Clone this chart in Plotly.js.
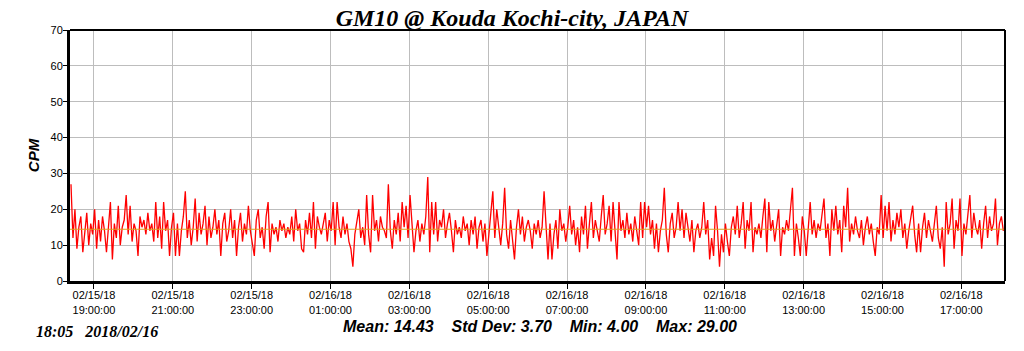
<!DOCTYPE html>
<html>
<head>
<meta charset="utf-8">
<script src="https://cdn.plot.ly/plotly-3.0.1.min.js"></script>
<style>html,body{margin:0;padding:0;background:#fff;}#chart{width:1024px;height:351px;}</style>
</head>
<body>
<div id="chart"></div>
<script>
// CPM readings, one every 3 minutes starting 2018-02-15 18:25
const startTime = "2018-02-15 18:25:00";
const intervalMinutes = 3;
const cpm = [
  27,12,20,9,15,18,8,14,19,10, 16,13,20,9,17,11,18,14,8,15,
  22,6,16,12,21,10,15,17,24,13, 21,11,16,14,7,18,15,17,13,19,
  14,16,11,22,12,18,9,22,14,17, 7,15,19,7,16,7,14,18,25,12,
  17,10,15,23,11,19,13,16,21,10, 18,12,15,20,13,17,7,16,19,11,
  14,20,12,17,7,15,19,11,16,13, 21,14,10,7,17,20,12,15,9,18,
  22,8,16,13,15,11,17,14,16,12, 15,13,18,11,20,14,16,9,8,17,
  13,19,12,22,9,18,15,13,16,19, 11,17,14,22,10,22,15,12,18,13,
  16,11,9,4,13,17,20,12,15,10, 24,13,8,24,14,17,11,18,15,14,
  12,27,14,9,17,13,19,11,22,15, 21,12,24,16,8,14,17,11,16,13,
  18,29,8,22,13,22,11,17,15,20, 12,16,19,14,8,17,13,15,12,18,
  14,16,10,17,13,18,9,15,17,11, 16,7,14,19,25,12,20,14,10,16,
  26,13,9,17,11,6,15,20,13,18, 11,15,17,14,9,16,13,17,12,15,
  25,14,6,16,6,13,17,9,20,14, 16,11,15,21,13,17,10,15,8,18,
  13,21,9,16,22,12,17,14,11,18, 24,13,16,21,11,22,15,6,22,14,
  17,12,19,13,16,11,18,14,10,22, 12,22,15,21,13,17,9,16,8,14,
  17,26,13,8,16,19,12,15,22,14, 20,12,19,15,11,17,8,14,16,12,
  15,22,13,17,6,12,7,21,14,4, 13,8,16,11,7,15,18,13,21,12,
  16,22,9,17,14,22,8,15,13,16, 12,18,23,8,22,14,17,11,16,20,
  7,15,13,17,14,21,26,7,16,12, 7,18,14,7,15,22,13,17,12,16,
  14,18,23,12,16,7,20,14,21,13, 17,8,21,15,26,11,16,13,18,14,
  12,17,10,15,18,13,16,11,7,15, 13,24,12,21,14,22,11,17,13,19,
  15,20,12,16,9,14,17,21,13,8, 16,8,15,19,12,17,14,11,16,21,
  12,9,15,4,22,13,16,23,9,17, 14,23,7,16,13,18,24,12,19,15,
  13,17,9,16,21,12,18,14,16,23, 10,16,18,14
];
const meanValue = 14.43;
const tickTimes = [
  "2018-02-15 19:00:00","2018-02-15 21:00:00","2018-02-15 23:00:00",
  "2018-02-16 01:00:00","2018-02-16 03:00:00","2018-02-16 05:00:00",
  "2018-02-16 07:00:00","2018-02-16 09:00:00","2018-02-16 11:00:00",
  "2018-02-16 13:00:00","2018-02-16 15:00:00","2018-02-16 17:00:00"
];
const tickLabels = [
  "02/15/18<br>19:00:00","02/15/18<br>21:00:00","02/15/18<br>23:00:00",
  "02/16/18<br>01:00:00","02/16/18<br>03:00:00","02/16/18<br>05:00:00",
  "02/16/18<br>07:00:00","02/16/18<br>09:00:00","02/16/18<br>11:00:00",
  "02/16/18<br>13:00:00","02/16/18<br>15:00:00","02/16/18<br>17:00:00"
];
const xRange = ["2018-02-15 18:23:30", "2018-02-16 18:06:30"];
const titleText = "GM10 @ Kouda Kochi-city, JAPAN";
const statsText = "Mean: 14.43&nbsp;&nbsp;&nbsp;&nbsp;Std Dev: 3.70&nbsp;&nbsp;&nbsp;&nbsp;Min: 4.00&nbsp;&nbsp;&nbsp;&nbsp;Max: 29.00";
const stampText = "18:05&nbsp;&nbsp;&nbsp;2018/02/16";

function toStr(ms){ return new Date(ms).toISOString().slice(0,19).replace('T',' '); }
const t0 = Date.parse(startTime.replace(' ','T') + 'Z');
const times = cpm.map((v,i) => toStr(t0 + i*intervalMinutes*60000));

const traces = [
  {x: times, y: cpm, type: 'scatter', mode: 'lines',
   line: {color: '#ff0000', width: 1.3}, hoverinfo: 'skip'},
  {x: xRange, y: [meanValue, meanValue], type: 'scatter', mode: 'lines',
   line: {color: '#e0a020', width: 1}, hoverinfo: 'skip'}
];

const layout = {
  width: 1024, height: 351,
  margin: {l: 70, r: 19, t: 30, b: 70},
  paper_bgcolor: '#ffffff', plot_bgcolor: '#ffffff',
  showlegend: false,
  font: {family: 'Liberation Sans, Arial, sans-serif', size: 11, color: '#000'},
  title: {text: titleText, x: 0.5, xanchor: 'center', y: 0.951, yanchor: 'middle',
          font: {family: 'Liberation Serif, Times New Roman, serif', size: 24, color: '#000', weight: 'bold', style: 'italic'}},
  xaxis: {type: 'date', range: xRange, tickmode: 'array', tickvals: tickTimes, ticktext: tickLabels,
          showgrid: true, gridcolor: '#bdbdbd', gridwidth: 1, zeroline: false,
          showline: true, linecolor: '#000', linewidth: 3,
          ticks: 'outside', ticklen: 5, tickcolor: '#000', tickwidth: 1,
          ticklabelstandoff: -3,
          tickfont: {size: 11, color: '#000'}, fixedrange: true},
  yaxis: {range: [0, 70], tickmode: 'array', tickvals: [0,10,20,30,40,50,60,70],
          showgrid: true, gridcolor: '#bdbdbd', gridwidth: 1, zeroline: false,
          showline: true, linecolor: '#000', linewidth: 3,
          ticks: 'outside', ticklen: 4, tickcolor: '#000', tickwidth: 1,
          ticklabelstandoff: -2,
          tickfont: {size: 11, color: '#000'},
          title: {text: 'CPM', standoff: 8, font: {size: 15, weight: 'bold', style: 'italic', color: '#000'}},
          fixedrange: true},
  shapes: [
    {type: 'line', xref: 'paper', yref: 'paper', x0: 0, x1: 1, y0: 1, y1: 1, line: {color: '#000', width: 2}},
    {type: 'line', xref: 'paper', yref: 'paper', x0: 1, x1: 1, y0: 0, y1: 1, line: {color: '#000', width: 2}}
  ],
  annotations: [
    {text: statsText, xref: 'paper', yref: 'paper', x: 0.503, y: -0.18, xanchor: 'center', yanchor: 'middle',
     showarrow: false, font: {family: 'Liberation Sans, Arial, sans-serif', size: 16, weight: 'bold', style: 'italic', color: '#000'}},
    {text: stampText, xref: 'paper', yref: 'paper', x: -0.039, y: -0.2, xanchor: 'left', yanchor: 'middle',
     showarrow: false, font: {family: 'Liberation Serif, Times New Roman, serif', size: 16, weight: 'bold', style: 'italic', color: '#000'}}
  ]
};

Plotly.newPlot('chart', traces, layout, {displayModeBar: false, staticPlot: true});
</script>
</body>
</html>
